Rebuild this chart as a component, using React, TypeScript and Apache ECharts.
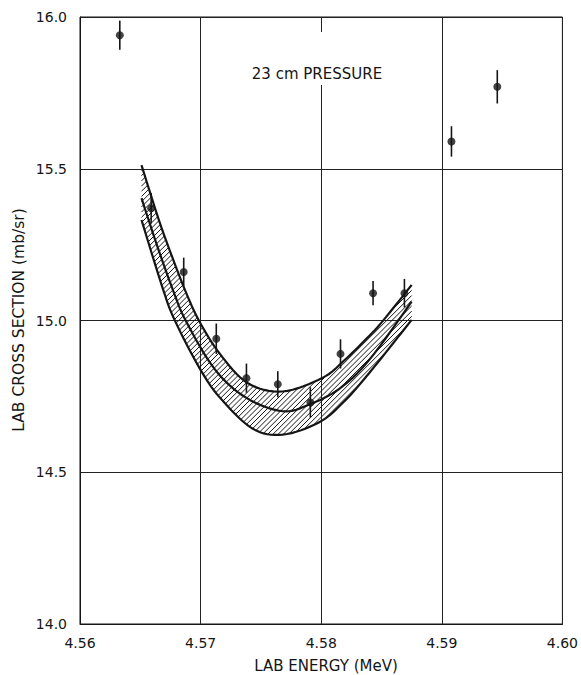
import React, { useEffect, useRef } from "react";
import * as echarts from "echarts";

// Measured points (LAB ENERGY in MeV, LAB CROSS SECTION in mb/sr)
const energies = [4.5633, 4.5659, 4.5686, 4.5713, 4.5738, 4.5764, 4.5791, 4.5816, 4.5843, 4.5869, 4.5908, 4.5946];
const crossSections = [15.94, 15.37, 15.16, 14.94, 14.81, 14.79, 14.73, 14.89, 15.09, 15.09, 15.59, 15.77];
const errors = [0.048, 0.05, 0.047, 0.05, 0.048, 0.043, 0.05, 0.048, 0.04, 0.047, 0.05, 0.055];

// Theoretical band curves
const upperCurve = [
  [4.5651, 15.512], [4.5664, 15.348], [4.5673, 15.246], [4.5687, 15.101], [4.5699, 14.997],
  [4.5716, 14.89], [4.5739, 14.794], [4.5768, 14.766], [4.5801, 14.811], [4.5819, 14.868],
  [4.584, 14.95], [4.5851, 14.998], [4.5875, 15.117],
];
const middleCurve = [
  [4.5651, 15.403], [4.5664, 15.246], [4.5677, 15.101], [4.5688, 14.997], [4.5712, 14.838],
  [4.5738, 14.745], [4.5768, 14.701], [4.579, 14.723], [4.5815, 14.775], [4.584, 14.871],
  [4.5875, 15.062],
];
const lowerCurve = [
  [4.5651, 15.331], [4.5669, 15.101], [4.5679, 14.997], [4.5699, 14.844], [4.5716, 14.746],
  [4.5743, 14.644], [4.5768, 14.624], [4.5798, 14.664], [4.5819, 14.733], [4.584, 14.828],
  [4.5875, 15.002],
];

const xRange = [4.56, 4.6];
const xStep = 0.01;
const yRange = [14.0, 16.0];
const yStep = 0.5;

const titleText = "23 cm PRESSURE";
const xName = "LAB ENERGY (MeV)";
const yName = "LAB CROSS SECTION (mb/sr)";

const FONT = "DejaVu Sans";
const INK = "#151515";

export default function App() {
  const ref = useRef<HTMLDivElement>(null);

  useEffect(() => {
    if (!ref.current) return;
    const chart = echarts.init(ref.current, undefined, { renderer: "svg" });

    // Catmull-Rom densification in pixel space so the hatched outline follows the drawn curves
    const densify = (pts: number[][]) => {
      const out: number[][] = [];
      for (let i = 0; i < pts.length - 1; i++) {
        const p0 = pts[Math.max(0, i - 1)];
        const p1 = pts[i];
        const p2 = pts[i + 1];
        const p3 = pts[Math.min(pts.length - 1, i + 2)];
        for (let s = 0; s < 8; s++) {
          const t = s / 8;
          const t2 = t * t;
          const t3 = t2 * t;
          const f = (a: number, b: number, c: number, d: number) =>
            0.5 * (2 * b + (-a + c) * t + (2 * a - 5 * b + 4 * c - d) * t2 + (-a + 3 * b - 3 * c + d) * t3);
          out.push([f(p0[0], p1[0], p2[0], p3[0]), f(p0[1], p1[1], p2[1], p3[1])]);
        }
      }
      out.push(pts[pts.length - 1]);
      return out;
    };

    const hatchRender = (params: any, api: any) => {
      const up = densify(upperCurve.map((p) => api.coord(p)));
      const lo = densify(lowerCurve.map((p) => api.coord(p))).reverse();
      const poly = up.concat(lo);
      let minC = Infinity;
      let maxC = -Infinity;
      poly.forEach((p: number[]) => {
        const c = p[0] + p[1];
        if (c < minC) minC = c;
        if (c > maxC) maxC = c;
      });
      const step = 5.2;
      const children: any[] = [];
      for (let c = Math.ceil(minC / step) * step; c <= maxC; c += step) {
        const pts: number[][] = [];
        for (let i = 0; i < poly.length; i++) {
          const a = poly[i];
          const b = poly[(i + 1) % poly.length];
          const fa = a[0] + a[1] - c;
          const fb = b[0] + b[1] - c;
          if (fa < 0 !== fb < 0) {
            const t = fa / (fa - fb);
            pts.push([a[0] + t * (b[0] - a[0]), a[1] + t * (b[1] - a[1])]);
          }
        }
        pts.sort((p, q) => p[0] - q[0]);
        for (let k = 0; k + 1 < pts.length; k += 2) {
          children.push({
            type: "line",
            shape: { x1: pts[k][0], y1: pts[k][1], x2: pts[k + 1][0], y2: pts[k + 1][1] },
            style: { stroke: INK, lineWidth: 1 },
          });
        }
      }
      return { type: "group", children };
    };

    const curveRender = (curve: number[][]) => (params: any, api: any) => {
      const pts = densify(curve.map((p) => api.coord(p)));
      return {
        type: "polyline",
        shape: { points: pts },
        style: { stroke: INK, lineWidth: 2.2, fill: "none" },
      };
    };

    const curveSeries = (curve: number[][]) => ({
      type: "custom",
      coordinateSystem: "cartesian2d",
      data: [[curve[0][0], curve[0][1]]],
      encode: { x: 0, y: 1 },
      renderItem: curveRender(curve),
      silent: true,
      z: 3,
    });

    const errRender = (params: any, api: any) => {
      const x = api.value(0);
      const lo = api.coord([x, api.value(1)]);
      const hi = api.coord([x, api.value(2)]);
      return {
        type: "line",
        shape: { x1: lo[0], y1: lo[1], x2: hi[0], y2: hi[1] },
        style: { stroke: INK, lineWidth: 1.6 },
      };
    };

    chart.setOption({
      animation: false,
      backgroundColor: "#ffffff",
      grid: {
        left: 80,
        right: 17,
        top: 17,
        bottom: 51,
        show: true,
        borderColor: INK,
        borderWidth: 1,
      },
      xAxis: {
        type: "value",
        min: xRange[0],
        max: xRange[1],
        interval: xStep,
        axisLine: { show: true, lineStyle: { color: INK, width: 1 } },
        axisTick: { show: false },
        splitLine: { show: true, lineStyle: { color: "#222", width: 1 } },
        axisLabel: {
          margin: 12,
          fontFamily: FONT,
          fontSize: 14,
          color: INK,
          formatter: (v: number) => v.toFixed(2),
        },
      },
      yAxis: {
        type: "value",
        min: yRange[0],
        max: yRange[1],
        interval: yStep,
        axisLine: { show: true, lineStyle: { color: INK, width: 1 } },
        axisTick: { show: false },
        splitLine: { show: true, lineStyle: { color: "#222", width: 1 } },
        axisLabel: {
          margin: 13,
          fontFamily: FONT,
          fontSize: 14,
          color: INK,
          formatter: (v: number) => v.toFixed(1),
        },
      },
      graphic: [
        {
          type: "rect",
          shape: { x: 312, y: 32, width: 20, height: 53 },
          style: { fill: "#ffffff" },
          z: 10,
        },
        {
          type: "text",
          x: 317,
          y: 73.5,
          style: {
            text: titleText,
            fontFamily: FONT,
            fontSize: 15,
            fill: INK,
            align: "center",
            verticalAlign: "middle",
          },
          z: 11,
        },
        {
          type: "text",
          x: 326,
          y: 665.5,
          style: {
            text: xName,
            fontFamily: FONT,
            fontSize: 15,
            fill: INK,
            align: "center",
            verticalAlign: "middle",
          },
        },
        {
          type: "text",
          x: 19,
          y: 320,
          rotation: Math.PI / 2,
          style: {
            text: yName,
            fontFamily: FONT,
            fontSize: 15.5,
            fill: INK,
            align: "center",
            verticalAlign: "middle",
          },
        },
      ],
      series: [
        {
          type: "custom",
          coordinateSystem: "cartesian2d",
          data: [[upperCurve[0][0], upperCurve[0][1]]],
          encode: { x: 0, y: 1 },
          renderItem: hatchRender,
          silent: true,
          z: 2,
        },
        curveSeries(upperCurve),
        curveSeries(middleCurve),
        curveSeries(lowerCurve),
        {
          type: "custom",
          coordinateSystem: "cartesian2d",
          data: energies.map((e, i) => [e, crossSections[i] - errors[i], crossSections[i] + errors[i]]),
          encode: { x: 0, y: [1, 2] },
          renderItem: errRender,
          silent: true,
          z: 4,
        },
        {
          type: "scatter",
          data: energies.map((e, i) => [e, crossSections[i]]),
          symbol: "circle",
          symbolSize: 8,
          itemStyle: { color: INK },
          silent: true,
          z: 5,
        },
      ],
    });

    return () => chart.dispose();
  }, []);

  return (
    <div
      ref={ref}
      style={{ position: "fixed", left: 0, top: 0, width: 581, height: 675, background: "#fff" }}
    />
  );
}
